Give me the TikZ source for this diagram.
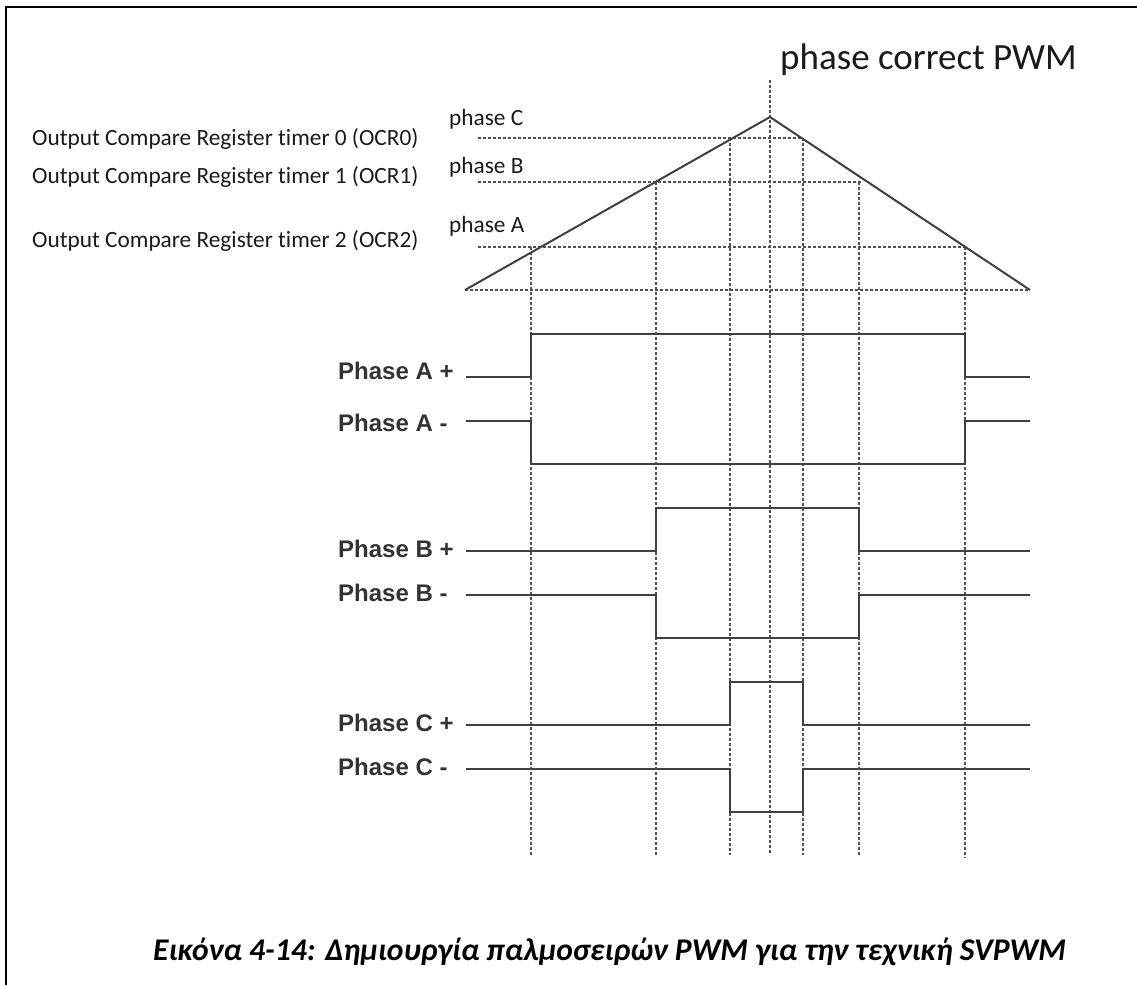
\documentclass[tikz,border=0pt]{standalone}
\usepackage{fontspec}
\setmainfont[Ligatures=NoCommon]{Carlito}
\newfontfamily\arialfont{Liberation Sans}
\definecolor{sigcol}{HTML}{404040}
\definecolor{gridcol}{HTML}{505050}
\definecolor{txtcol}{HTML}{1A1A1A}
\definecolor{plabcol}{HTML}{333333}
\begin{document}
\begin{tikzpicture}[x=1pt,y=-1pt,
  frame/.style={line width=2.2pt, draw=black},
  tri/.style={line width=2pt, draw=sigcol},
  gridline/.style={dash pattern=on 3pt off 2pt, line width=1.1pt, draw=gridcol},
  sig/.style={line width=2.4pt, draw=sigcol},
  lab/.style={font=\fontsize{23.3}{27}\selectfont, text=txtcol, anchor=base west, inner sep=0pt},
  plab/.style={font=\arialfont\bfseries\fontsize{24}{28}\selectfont, text=plabcol, anchor=base west, inner sep=0pt},
  title/.style={font=\fontsize{37}{42}\selectfont, text=txtcol, anchor=base west, inner sep=0pt},
  caption/.style={font=\bfseries\itshape\fontsize{31.6}{36}\selectfont, text=black, anchor=base west, inner sep=0pt}
]
\useasboundingbox (0,0) rectangle (1137,985);
% frame (left and top edges)
\draw[frame] (6,985) -- (6,7) -- (1137,7);

% title
\node[title] (ttl) at (780,69) {phase correct PWM};

% register labels
\node[lab] (ocr0) at (32,145) {Output Compare Register timer 0 (OCR0)};
\node[lab] (ocr1) at (32,183) {Output Compare Register timer 1 (OCR1)};
\node[lab] (ocr2) at (32,247) {Output Compare Register timer 2 (OCR2)};
\node[lab] (phC) at (449,125) {phase C};
\node[lab] (phB) at (449,173) {phase B};
\node[lab] (phA) at (449,232) {phase A};

% triangle carrier
\coordinate (T0) at (465,290);
\coordinate (Tp) at (770,117);
\coordinate (T1) at (1030,290);

% level lines
\coordinate (LCs) at (478,138); \coordinate (LCe) at (803,138);
\coordinate (LBs) at (478,182); \coordinate (LBe) at (862,182);
\coordinate (LAs) at (478,247); \coordinate (LAe) at (965,247);
\draw[gridline] (LCs) -- (LCe);
\draw[gridline] (LBs) -- (LBe);
\draw[gridline] (LAs) -- (LAe);
\draw[gridline] (T0) -- (T1);

% vertical guide lines
\coordinate (V1t) at (531,247); \coordinate (V1b) at (531,855);
\coordinate (V2t) at (656,182); \coordinate (V2b) at (656,855);
\coordinate (V3t) at (730,138); \coordinate (V3b) at (730,855);
\coordinate (V4t) at (770,80);  \coordinate (V4b) at (770,855);
\coordinate (V5t) at (803,138); \coordinate (V5b) at (803,855);
\coordinate (V6t) at (859,182); \coordinate (V6b) at (859,855);
\coordinate (V7t) at (965,247); \coordinate (V7b) at (965,858);
\foreach \v in {1,...,7} {\draw[gridline] (V\v t) -- (V\v b);}

\draw[tri] (T0) -- (Tp) -- (T1);

% phase labels
\node[plab] (lAp) at (338,379) {Phase A +};
\node[plab] (lAm) at (338,431) {Phase A -};
\node[plab] (lBp) at (338,557) {Phase B +};
\node[plab] (lBm) at (338,601) {Phase B -};
\node[plab] (lCp) at (338,731) {Phase C +};
\node[plab] (lCm) at (338,775) {Phase C -};

% waveforms
\draw[sig] (466,377) -- (531,377) -- (531,334) -- (965,334) -- (965,377) -- (1030,377);
\draw[sig] (466,421) -- (531,421) -- (531,464) -- (965,464) -- (965,421) -- (1030,421);
\draw[sig] (466,551) -- (656,551) -- (656,508) -- (859,508) -- (859,551) -- (1030,551);
\draw[sig] (466,595) -- (656,595) -- (656,638) -- (859,638) -- (859,595) -- (1030,595);
\draw[sig] (466,725) -- (730,725) -- (730,682) -- (803,682) -- (803,725) -- (1030,725);
\draw[sig] (466,769) -- (730,769) -- (730,812) -- (803,812) -- (803,769) -- (1030,769);

% caption
\node[caption] (cap) at (153,960) {Εικόνα 4-14: Δημιουργία παλμοσειρών PWM για την τεχνική SVPWM};
\end{tikzpicture}
\end{document}
